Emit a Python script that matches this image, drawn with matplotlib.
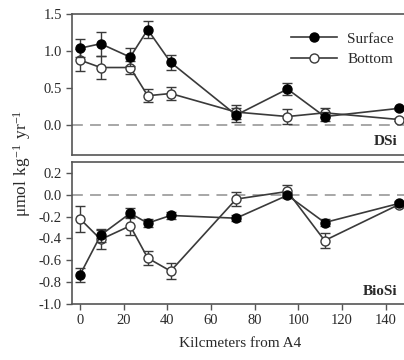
import numpy as np
import matplotlib.pyplot as plt
from matplotlib.lines import Line2D

plt.rcParams['font.family'] = ['Liberation Serif', 'DejaVu Serif']

km = [0, 9.5, 23, 31, 41.5, 71.5, 95, 112, 146]

# DSi
dsi_surf = [1.04, 1.10, 0.92, 1.29, 0.85, 0.14, 0.49, 0.12, 0.23]
dsi_surf_err = [0.12, 0.16, 0.12, 0.11, 0.10, 0.09, 0.08, 0.06, 0.02]
dsi_bot = [0.88, 0.78, 0.78, 0.40, 0.43, 0.18, 0.12, 0.17, 0.08]
dsi_bot_err = [0.15, 0.16, 0.09, 0.09, 0.085, 0.09, 0.10, 0.06, 0.02]

# BioSi
bio_surf = [-0.735, -0.37, -0.17, -0.26, -0.19, -0.215, -0.005, -0.255, -0.08]
bio_surf_err = [0.065, 0.06, 0.045, 0.035, 0.03, 0.03, 0.02, 0.03, 0.02]
bio_bot = [-0.22, -0.41, -0.285, -0.58, -0.70, -0.04, 0.03, -0.42, -0.09]
bio_bot_err = [0.12, 0.09, 0.085, 0.065, 0.07, 0.065, 0.06, 0.065, 0.02]

col = '#3a3a3a'
txt = '#2a2a2a'
fig = plt.figure(figsize=(4.04, 3.6), dpi=100)
ax1 = fig.add_axes([0.179, 0.569, 0.83, 0.392])
ax2 = fig.add_axes([0.179, 0.156, 0.83, 0.394])

def panel(ax, s, se, b, be):
    ax.axhline(0, color='#a0a0a0', lw=1.3, ls=(0, (6, 4)), zorder=1)
    ax.errorbar(km, s, yerr=se, color=col, lw=1.2, marker='o', ms=6.5,
                mfc='black', mec='black', capsize=3.5, elinewidth=1,
                capthick=1, ecolor=col, zorder=3)
    ax.errorbar(km, b, yerr=be, color=col, lw=1.2, marker='o', ms=6.5,
                mfc='white', mec=col, mew=1, capsize=3.5, elinewidth=1,
                capthick=1, ecolor=col, zorder=2)
    ax.set_xlim(-3.5, 150)
    for sp in ['top', 'left', 'bottom', 'right']:
        ax.spines[sp].set_color('#555555')
        ax.spines[sp].set_linewidth(1.2)
    ax.tick_params(direction='out', length=4, width=1, colors='#555555',
                   labelcolor=txt, labelsize=10.5)

panel(ax1, dsi_surf, dsi_surf_err, dsi_bot, dsi_bot_err)
panel(ax2, bio_surf, bio_surf_err, bio_bot, bio_bot_err)

ax1.set_ylim(-0.4, 1.5)
ax1.set_yticks([0.0, 0.5, 1.0, 1.5])
ax1.set_yticklabels(['0.0', '0.5', '1.0', '1.5'])
ax1.set_xticks([])
handles = [Line2D([], [], color=col, lw=1.2, marker='o', ms=6.5, mfc='black', mec='black'),
           Line2D([], [], color=col, lw=1.2, marker='o', ms=6.5, mfc='white', mec=col)]
ax1.legend(handles, ['Surface', 'Bottom'], loc='upper right',
           bbox_to_anchor=(1.0, 0.97), frameon=False, fontsize=11,
           handlelength=3.0, labelspacing=0.45, handletextpad=0.7,
           labelcolor=txt)
ax1.text(0.97, 0.05, 'DSi', transform=ax1.transAxes, fontsize=11,
         fontweight='bold', ha='right', va='bottom', color=txt)

ax2.set_ylim(-1.0, 0.3)
yt = [-1.0, -0.8, -0.6, -0.4, -0.2, 0.0, 0.2]
ax2.set_yticks(yt)
ax2.set_yticklabels(['%.1f' % v for v in yt])
ax2.set_xticks([0, 20, 40, 60, 80, 100, 120, 140])
ax2.set_xlabel('Kilcmeters from A4', fontsize=11, color=txt, labelpad=7)
ax2.text(0.97, 0.04, 'BioSi', transform=ax2.transAxes, fontsize=11,
         fontweight='bold', ha='right', va='bottom', color=txt)

fig.text(0.055, 0.545, r'$\mathregular{\mu mol\ kg^{-1}\ yr^{-1}}$', rotation=90,
         ha='center', va='center', fontsize=12.5, color=txt)

fig.savefig('out.png', dpi=100)
